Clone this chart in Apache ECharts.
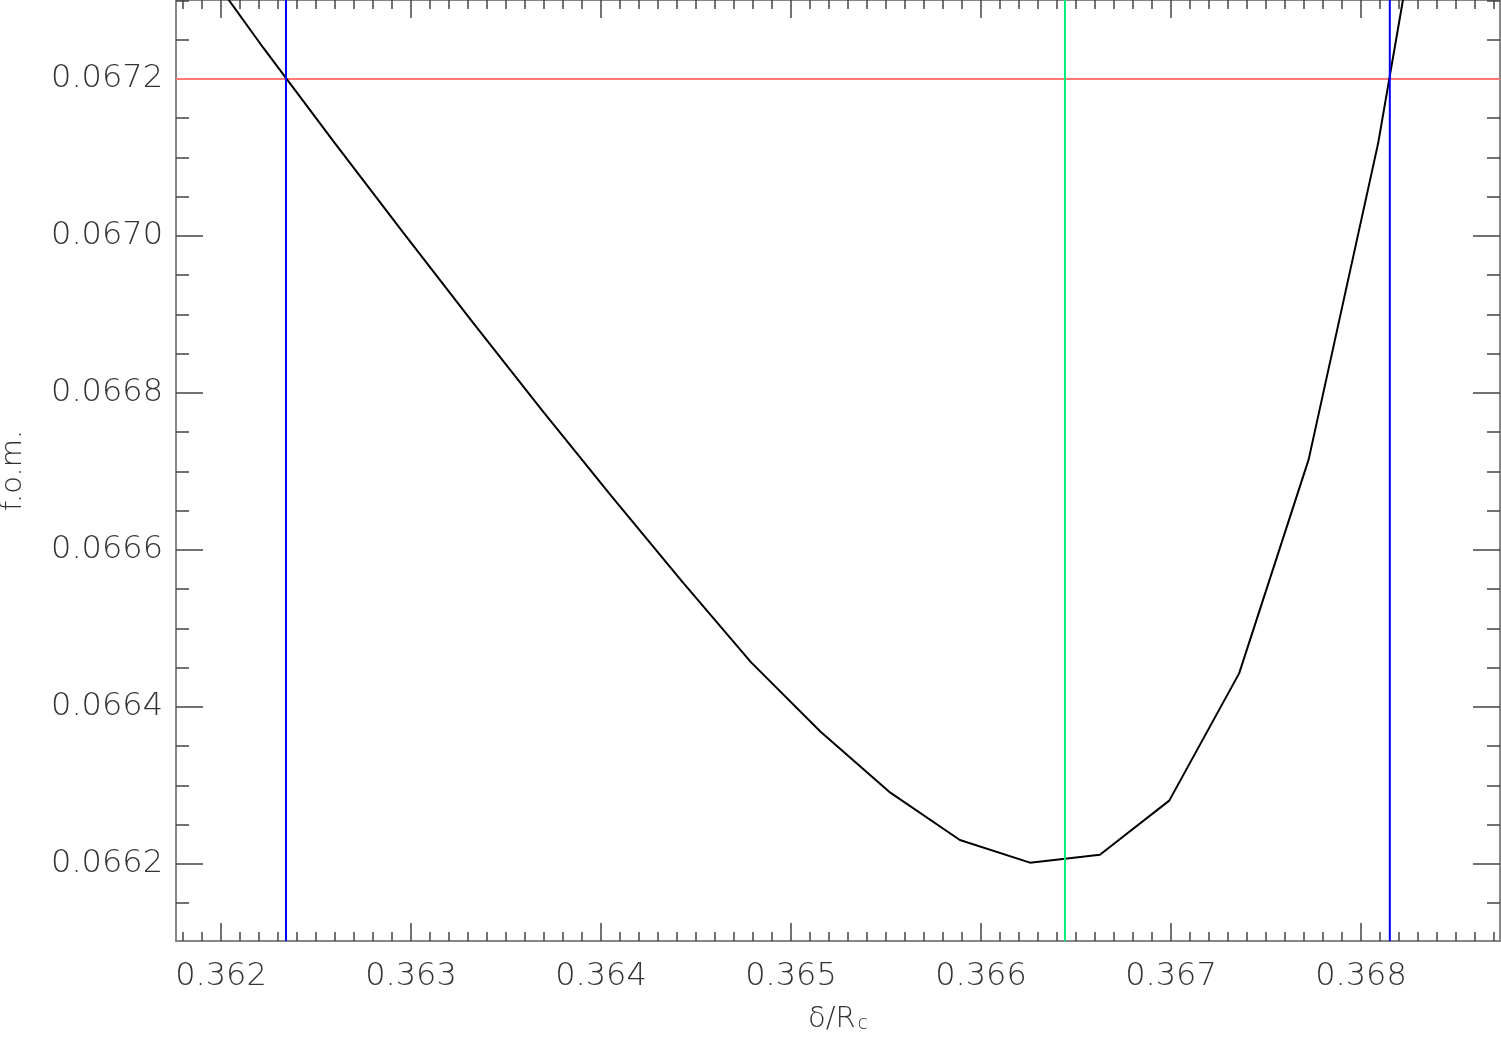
<!DOCTYPE html>
<html>
<head>
<meta charset="utf-8">
<script src="https://cdn.jsdelivr.net/npm/echarts@6/dist/echarts.min.js"></script>
<style>
html,body{margin:0;padding:0;background:#fff;}
#chart{width:1501px;height:1038px;}
</style>
</head>
<body>
<div id="chart"></div>
<script>
// ---- data ----
const deltaRc = [0.361856, 0.362223, 0.362589, 0.362956, 0.363323, 0.363689, 0.364056, 0.364423, 0.364789, 0.365156, 0.365523, 0.365889, 0.366258, 0.366626, 0.366991, 0.367359, 0.367725, 0.368091, 0.368458];
const fom = [0.0673627, 0.0672395, 0.0671214, 0.0670051, 0.0668907, 0.0667783, 0.0666683, 0.0665610, 0.0664571, 0.0663685, 0.0662909, 0.0662306, 0.0662017, 0.0662118, 0.0662807, 0.0664428, 0.0667154, 0.0671186, 0.0676318];
const blueLines = [0.362342, 0.368152];
const greenLine = [0.366442];
const redLine = [0.0672];
const xTickLabels = [0.362, 0.363, 0.364, 0.365, 0.366, 0.367, 0.368];
const yTickLabels = [0.0662, 0.0664, 0.0666, 0.0668, 0.0670, 0.0672];
const xRange = [0.361763, 0.368732];
const yRange = [0.0661019, 0.0673006];

// minor tick positions (every 0.0001 on x, every 0.00005 on y)
const xMinor = [];
for (let i = 3617; i <= 3688; i++) { const v = i / 10000; if (v >= xRange[0] && v <= xRange[1]) xMinor.push(v); }
const yMinor = [];
for (let i = 1322; i <= 1346; i++) { const v = i / 20000; if (v >= yRange[0] && v <= yRange[1]) yMinor.push(v); }

const FONT = 'DejaVu Sans';
const gridRect = { left: 176, top: 0, width: 1324, height: 941, outerBoundsMode: 'none', containLabel: false };
const axisLineStyle = { color: '#7f7f7f', width: 1.5 };
const tickColor = '#444';

function xAx(gridIndex, pos, ticks, len, showLabel, extra) {
  return Object.assign({
    type: 'value', gridIndex: gridIndex, position: pos,
    min: xRange[0], max: xRange[1],
    axisLine: { show: true, onZero: false, lineStyle: axisLineStyle },
    axisTick: { show: true, inside: true, length: len, customValues: ticks, lineStyle: { color: tickColor, width: 1.5 } },
    axisLabel: showLabel ? {
      show: true, customValues: xTickLabels, margin: 20,
      formatter: v => v.toFixed(3),
      fontFamily: FONT, fontSize: 32, fontWeight: 200, color: '#333'
    } : { show: false },
    splitLine: { show: false }, minorTick: { show: false }
  }, extra || {});
}
function yAx(gridIndex, pos, ticks, len, showLabel, extra) {
  return Object.assign({
    type: 'value', gridIndex: gridIndex, position: pos,
    min: yRange[0], max: yRange[1],
    axisLine: { show: true, onZero: false, lineStyle: axisLineStyle },
    axisTick: { show: true, inside: true, length: len, customValues: ticks, lineStyle: { color: tickColor, width: 1.5 } },
    axisLabel: showLabel ? {
      show: true, customValues: yTickLabels, margin: 13,
      formatter: v => v.toFixed(4),
      fontFamily: FONT, fontSize: 32, fontWeight: 200, color: '#333'
    } : { show: false },
    splitLine: { show: false }, minorTick: { show: false }
  }, extra || {});
}

function refLine(points, color, z) {
  return {
    type: 'line', xAxisIndex: 0, yAxisIndex: 0, z: z,
    data: points, showSymbol: false, symbol: 'none', clip: true,
    lineStyle: { color: color, width: 2 }, silent: true
  };
}

const series = [];
redLine.forEach(v => series.push(refLine([[xRange[0], v], [xRange[1], v]], '#ff7777', 2)));
series.push({
  type: 'line', xAxisIndex: 0, yAxisIndex: 0, z: 3,
  data: deltaRc.map((x, i) => [x, fom[i]]),
  showSymbol: false, symbol: 'none', clip: true,
  lineStyle: { color: '#000', width: 2 }
});
blueLines.forEach(v => series.push(refLine([[v, yRange[0]], [v, yRange[1]]], '#0000ff', 4)));
greenLine.forEach(v => series.push(refLine([[v, yRange[0]], [v, yRange[1]]], '#00ee77', 4)));

const chart = echarts.init(document.getElementById('chart'), null, { renderer: 'canvas' });
chart.setOption({
  animation: false,
  backgroundColor: '#fff',
  grid: [0, 1, 2, 3].map(() => Object.assign({}, gridRect)),
  xAxis: [
    xAx(0, 'bottom', xTickLabels, 18, true, {
      name: '{a|δ/R}{s|c}', nameLocation: 'middle', nameGap: 64,
      nameTextStyle: {
        rich: {
          a: { fontFamily: FONT, fontSize: 29, fontWeight: 200, color: '#333' },
          s: { fontFamily: FONT, fontSize: 19, fontWeight: 200, color: '#333', verticalAlign: 'bottom', padding: [10, 0, 0, 2] }
        }
      }
    }),
    xAx(1, 'bottom', xMinor, 9, false),
    xAx(2, 'top', xTickLabels, 18, false),
    xAx(3, 'top', xMinor, 9, false)
  ],
  yAxis: [
    yAx(0, 'left', yTickLabels, 27, true, {
      name: 'f.o.m.', nameLocation: 'middle', nameGap: 148, nameRotate: 90,
      nameTextStyle: { fontFamily: FONT, fontSize: 29, fontWeight: 200, color: '#333' }
    }),
    yAx(1, 'left', yMinor, 13, false),
    yAx(2, 'right', yTickLabels, 27, false),
    yAx(3, 'right', yMinor, 13, false)
  ],
  series: series
});
</script>
</body>
</html>
